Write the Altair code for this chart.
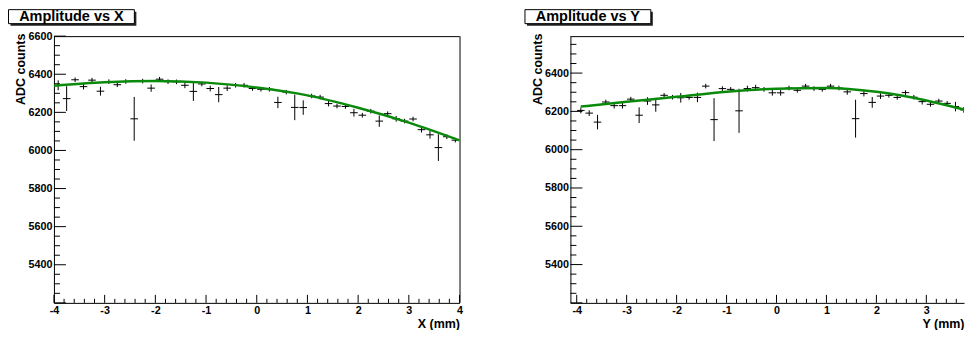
import altair as alt
import pandas as pd

FONT = "Liberation Sans"

# bin centres (48 bins of 1/6 mm between -4 and 4)
x_centers = [-3.917, -3.750, -3.583, -3.417, -3.250, -3.083, -2.917, -2.750,
             -2.583, -2.417, -2.250, -2.083, -1.917, -1.750, -1.583, -1.417,
             -1.250, -1.083, -0.917, -0.750, -0.583, -0.417, -0.250, -0.083,
             0.083, 0.250, 0.417, 0.583, 0.750, 0.917, 1.083, 1.250,
             1.417, 1.583, 1.750, 1.917, 2.083, 2.250, 2.417, 2.583,
             2.750, 2.917, 3.083, 3.250, 3.417, 3.583, 3.750, 3.917]

# Amplitude vs X
amp_x = [6342, 6272, 6371, 6335, 6369, 6311, 6361, 6345, 6362, 6166, 6364, 6327,
         6374, 6361, 6360, 6342, 6310, 6349, 6325, 6293, 6327, 6342, 6342, 6325,
         6321, 6321, 6252, 6306, 6226, 6225, 6286, 6280, 6246, 6233, 6231, 6198,
         6185, 6206, 6154, 6193, 6166, 6154, 6165, 6109, 6082, 6015, 6072, 6054]
amp_x_err = [26, 65, 12, 15, 12, 23, 12, 12, 12, 115, 12, 19,
             12, 12, 12, 15, 50, 12, 15, 40, 15, 12, 12, 12,
             12, 12, 30, 12, 67, 38, 12, 12, 15, 12, 12, 20,
             12, 12, 30, 12, 15, 12, 12, 15, 20, 70, 12, 12]
fit_x_pos = [-4, -3, -2, -1, 0, 1, 2, 3, 4]
fit_x_val = [6340, 6358, 6365, 6356, 6330, 6289, 6224, 6146, 6053]

# Amplitude vs Y
amp_y = [6205, 6191, 6144, 6249, 6230, 6230, 6264, 6180, 6254, 6234, 6284, 6274,
         6271, 6273, 6273, 6332, 6157, 6319, 6315, 6203, 6319, 6324, 6315, 6297,
         6297, 6322, 6310, 6332, 6319, 6315, 6332, 6322, 6302, 6162, 6293, 6247,
         6280, 6284, 6273, 6298, 6274, 6251, 6237, 6254, 6242, 6225, 6208, 6213]
amp_y_err = [15, 15, 38, 12, 15, 15, 12, 41, 20, 36, 12, 12,
             25, 12, 25, 12, 112, 12, 12, 115, 15, 15, 12, 15,
             15, 12, 12, 12, 12, 12, 12, 12, 15, 99, 15, 28,
             15, 12, 12, 12, 12, 15, 12, 12, 12, 25, 15, 12]
fit_y_pos = [-3.92, -3, -2, -1, 0, 1, 2, 3, 4]
fit_y_val = [6225, 6250, 6276, 6303, 6318, 6322, 6302, 6257, 6192]

x_labels_left = [-4, -3, -2, -1, 0, 1, 2, 3, 4]
x_labels_right = [-4, -3, -2, -1, 0, 1, 2, 3]
y_labels_left = [5400, 5600, 5800, 6000, 6200, 6400, 6600]
y_labels_right = [5400, 5600, 5800, 6000, 6200, 6400]

x_major = [-4, -3, -2, -1, 0, 1, 2, 3, 4]
x_minor = [v / 10 for v in range(-40, 41, 2) if v % 10 != 0]
y_major = list(range(5200, 6601, 200))
y_minor = [v for v in range(5200, 6601, 50) if v % 200 != 0]

BIN_HALF = 0.075
H = 267


def panel(title, xtitle, xc, vals, errs, fx, fv, xdom, ydom, W, xlabels, ylabels, right_frame):
    xs = alt.Scale(domain=xdom, nice=False, zero=False)
    ys = alt.Scale(domain=ydom, nice=False, zero=False)
    xaxis = alt.Axis(values=xlabels, labelExpr="'' + datum.value", ticks=False, tickSize=0,
                     grid=False, domain=True, domainColor="black", domainWidth=1,
                     labelFont=FONT, labelFontSize=10.8, labelFontWeight="bold",
                     labelColor="black", labelPadding=8, labelBaseline="middle",
                     labelFlush=False, labelOverlap=False, labelBound=False,
                     title=xtitle, titleFont=FONT, titleFontSize=12.5, titleFontWeight="bold",
                     titleColor="black", titleAnchor="end", titleAlign="right",
                     titleBaseline="middle", titleX=W, titleY=20.2)
    yaxis = alt.Axis(values=ylabels, format="d", ticks=False, tickSize=0, grid=False,
                     domain=True, domainColor="black", domainWidth=1,
                     labelFont=FONT, labelFontSize=10.8, labelFontWeight="bold",
                     labelColor="black", labelPadding=2, labelOverlap=False,
                     labelFlush=False, labelBound=False,
                     title="ADC counts", titleFont=FONT, titleFontSize=12.5,
                     titleFontWeight="bold", titleColor="black", titleAngle=270,
                     titleAlign="right", titleBaseline="middle", titleAnchor="end",
                     titleX=-33, titleY=-3)

    df = pd.DataFrame({"x": xc, "v": vals, "e": errs})
    df["lo"] = df["v"] - df["e"]
    df["hi"] = df["v"] + df["e"]
    df["xl"] = df["x"] - BIN_HALF
    df["xh"] = df["x"] + BIN_HALF
    fit = pd.DataFrame({"x": fx, "v": fv})
    one = pd.DataFrame({"a": [0]})

    ymaj = pd.DataFrame({"t": [t for t in y_major if ydom[0] <= t <= ydom[1]]})
    ymin = pd.DataFrame({"t": [t for t in y_minor if ydom[0] <= t <= ydom[1]]})
    xmaj = pd.DataFrame({"t": [t for t in x_major if xdom[0] <= t <= xdom[1]]})
    xmin = pd.DataFrame({"t": [t for t in x_minor if xdom[0] <= t <= xdom[1]]})

    layers = []
    # frame top
    layers.append(alt.Chart(one).mark_rule(color="black", strokeWidth=1).encode(
        x=alt.value(0), x2=alt.value(W), y=alt.value(0.5)))
    if right_frame:
        layers.append(alt.Chart(one).mark_rule(color="black", strokeWidth=1).encode(
            x=alt.value(W + 0.5), y=alt.value(0), y2=alt.value(H)))
    # inward ticks
    layers.append(alt.Chart(ymaj).mark_rule(color="black", strokeWidth=1).encode(
        y=alt.Y("t:Q", scale=ys, axis=yaxis), x=alt.value(0), x2=alt.value(12)))
    layers.append(alt.Chart(ymin).mark_rule(color="black", strokeWidth=1).encode(
        y=alt.Y("t:Q", scale=ys, axis=yaxis), x=alt.value(0), x2=alt.value(6)))
    layers.append(alt.Chart(xmaj).mark_rule(color="black", strokeWidth=1).encode(
        x=alt.X("t:Q", scale=xs, axis=xaxis), y=alt.value(H), y2=alt.value(H - 8)))
    layers.append(alt.Chart(xmin).mark_rule(color="black", strokeWidth=1).encode(
        x=alt.X("t:Q", scale=xs, axis=xaxis), y=alt.value(H), y2=alt.value(H - 4)))
    # data crosses
    layers.append(alt.Chart(df).mark_rule(color="black", strokeWidth=1, clip=True).encode(
        x=alt.X("x:Q", scale=xs, axis=xaxis),
        y=alt.Y("lo:Q", scale=ys, axis=yaxis), y2="hi:Q"))
    layers.append(alt.Chart(df).mark_rule(color="black", strokeWidth=1, clip=True).encode(
        x=alt.X("xl:Q", scale=xs, axis=xaxis), x2="xh:Q",
        y=alt.Y("v:Q", scale=ys, axis=yaxis)))
    # fit
    layers.append(alt.Chart(fit).mark_line(color="#0a8a0a", strokeWidth=2.5,
                                           interpolate="monotone", clip=True).encode(
        x=alt.X("x:Q", scale=xs, axis=xaxis), y=alt.Y("v:Q", scale=ys, axis=yaxis)))
    # title box with shadow
    layers.append(alt.Chart(one).mark_rect(fill="#222222").encode(
        x=alt.value(-43.5), x2=alt.value(82.5), y=alt.value(-24.5), y2=alt.value(-10.5)))
    layers.append(alt.Chart(one).mark_rect(fill="white", stroke="black", strokeWidth=1).encode(
        x=alt.value(-45.5), x2=alt.value(80.5), y=alt.value(-26.5), y2=alt.value(-12.5)))
    layers.append(alt.Chart(one).mark_text(text=title, font=FONT, fontSize=14.5,
                                           fontWeight="bold", color="black",
                                           align="center", baseline="middle").encode(
        x=alt.value(17.5), y=alt.value(-19.5)))
    return alt.layer(*layers).properties(width=W, height=H)


left = panel("Amplitude vs X", "X (mm)", x_centers, amp_x, amp_x_err, fit_x_pos, fit_x_val,
             [-4, 4], [5200, 6600], 406, x_labels_left, y_labels_left, True)
right = panel("Amplitude vs Y", "Y (mm)", x_centers, amp_y, amp_y_err, fit_y_pos, fit_y_val,
              [-4.126, 3.754], [5200, 6593], 394, x_labels_right, y_labels_right, False)

chart = alt.hconcat(left, right, spacing=61).properties(padding=0).configure(
    background="white").configure_view(strokeWidth=0)

chart.save("out.html", embed_options={"renderer": "svg", "actions": False})
